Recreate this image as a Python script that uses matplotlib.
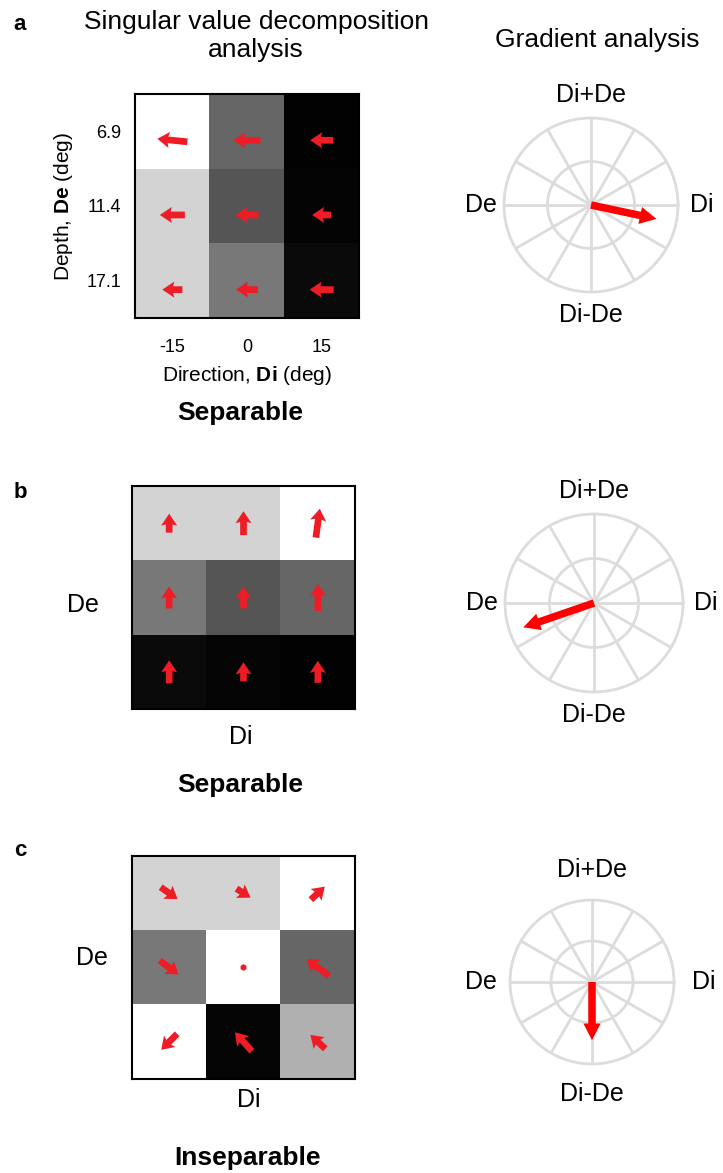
import matplotlib
matplotlib.use("Agg")
import matplotlib.pyplot as plt
import numpy as np

W, H = 723, 1173
plt.rcParams["font.family"] = ["Liberation Sans", "DejaVu Sans"]
plt.rcParams["mathtext.fontset"] = "custom"
plt.rcParams["mathtext.rm"] = "Liberation Sans"
plt.rcParams["mathtext.bf"] = "Liberation Sans:bold"

# gray level of each cell (0 = black, 255 = white), rows top -> bottom
shade_a = [[255, 102, 2], [211, 85, 4], [211, 120, 10]]
shade_b = [[211, 211, 255], [120, 85, 102], [10, 5, 2]]
shade_c = [[211, 211, 255], [120, 255, 102], [255, 5, 176]]

# local gradient arrows (x to the right, y upwards), in pixels
u_a = [[-30, -27, -23], [-25, -23, -19], [-20, -22, -24]]
v_a = [[3, 0, 0], [0, 0, 0], [0, 0, 0]]
u_b = [[0, 0, 4], [0, 0, 0], [0, 0, 0]]
v_b = [[19, 24, 29], [22, 22, 27], [23, 19, 22]]
u_c = [[17, 14, 14], [19, 2, -23], [-16, -17, -15]]
v_c = [[-12, -9, 13], [-14, -1, 17], [-16, 19, 14]]

di_ticks = ["-15", "0", "15"]
de_ticks = ["6.9", "11.4", "17.1"]

# overall gradient direction (deg) and relative length
grad_angle = [-12, 199, -90]
grad_len = [0.77, 0.84, 0.71]
compass = {0: "Di", 90: "Di+De", 180: "De", 270: "Di-De"}

fig = plt.figure(figsize=(W / 100, H / 100), dpi=100)


def px_axes(left, top, w, h, **kw):
    return fig.add_axes([left / W, 1 - (top + h) / H, w / W, h / H], **kw)


def ftext(x, y, s, **kw):
    kw.setdefault("ha", "center")
    kw.setdefault("va", "center")
    fig.text(x / W, 1 - y / H, s, **kw)


def heatmap(box, shade, u, v, dy=0.0):
    ax = px_axes(*box)
    ax.imshow(np.array(shade), cmap="gray", vmin=0, vmax=255, aspect="auto")
    gx, gy = np.meshgrid(np.arange(3), np.arange(3))
    ax.quiver(gx, gy + dy, np.array(u), -np.array(v), color="#ee1c25",
              angles="xy", scale_units="xy", scale=74.5, pivot="middle",
              width=0.03, headwidth=2.4, headlength=1.8, headaxislength=1.6,
              zorder=3)
    for s in ax.spines.values():
        s.set_linewidth(1.5)
        s.set_color("black")
    ax.tick_params(length=0)
    ax.set_xticks([])
    ax.set_yticks([])
    return ax


def gradient(box, ang, length, lab_r):
    ax = px_axes(*box, projection="polar")
    ax.set_ylim(0, 1)
    ax.set_xticks(np.deg2rad(np.arange(0, 360, 30)))
    ax.set_xticklabels([])
    ax.set_yticks([0.5])
    ax.set_yticklabels([])
    ax.grid(color="#dcdcdc", lw=2)
    ax.spines["polar"].set_color("#dcdcdc")
    ax.spines["polar"].set_linewidth(2)
    ax.annotate("", xy=(np.deg2rad(ang), length), xytext=(0, 0),
                arrowprops=dict(arrowstyle="simple,head_length=0.6,head_width=0.62,tail_width=0.27",
                                color="red", lw=0, mutation_scale=20,
                                shrinkA=0, shrinkB=0))
    for deg, lab in compass.items():
        ax.text(np.deg2rad(deg), lab_r, lab, ha="center", va="center",
                fontsize=18)
    return ax


# ---- panel a
ax = heatmap((135, 94, 224, 224), shade_a, u_a, v_a, dy=0.12)
ax.set_xticks(range(3))
ax.set_xticklabels(di_ticks, fontsize=13)
ax.set_yticks(range(3))
ax.set_yticklabels(de_ticks, fontsize=13)
ax.tick_params(axis="x", pad=15)
ax.tick_params(axis="y", pad=10)
ax.set_xlabel(r"Direction, $\mathbf{Di}$ (deg)", fontsize=15, labelpad=6)
ax.set_ylabel(r"Depth, $\mathbf{De}$ (deg)", fontsize=15, labelpad=8)

gradient((504, 118, 174, 174), grad_angle[0], grad_len[0], 1.27)

ftext(256, 36, "Singular value decomposition\nanalysis", fontsize=19,
      linespacing=1.25)
ftext(597, 40, "Gradient analysis", fontsize=19)
ftext(240, 413, "Separable", fontsize=19, fontweight="bold")
ftext(20, 24, "a", fontsize=16, fontweight="bold")

# ---- panel b
heatmap((132, 486, 223, 223), shade_b, u_b, v_b)
gradient((505, 514, 178, 178), grad_angle[1], grad_len[1], 1.26)
ftext(83, 605, "De", fontsize=18)
ftext(241, 737, "Di", fontsize=18)
ftext(240, 785, "Separable", fontsize=19, fontweight="bold")
ftext(20, 492, "b", fontsize=16, fontweight="bold")

# ---- panel c
heatmap((132, 856, 223, 223), shade_c, u_c, v_c)
gradient((510, 900, 164, 164), grad_angle[2], grad_len[2], 1.36)
ftext(92, 958, "De", fontsize=18)
ftext(249, 1100, "Di", fontsize=18)
ftext(248, 1158, "Inseparable", fontsize=19, fontweight="bold")
ftext(20, 850, "c", fontsize=16, fontweight="bold")

fig.savefig("out.png", dpi=100)
